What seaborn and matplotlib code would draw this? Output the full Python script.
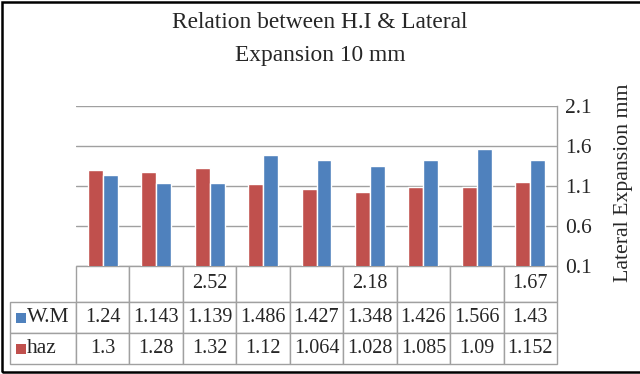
import matplotlib
matplotlib.use("Agg")
import matplotlib.pyplot as plt
import pandas as pd
import seaborn as sns
from matplotlib.patches import Rectangle

# data
hi_labels = ["", "", "2.52", "", "", "2.18", "", "", "1.67"]
wm = [1.24, 1.143, 1.139, 1.486, 1.427, 1.348, 1.426, 1.566, 1.43]
haz = [1.3, 1.28, 1.32, 1.12, 1.064, 1.028, 1.085, 1.09, 1.152]
wm_text = ["1.24", "1.143", "1.139", "1.486", "1.427", "1.348", "1.426", "1.566", "1.43"]
haz_text = ["1.3", "1.28", "1.32", "1.12", "1.064", "1.028", "1.085", "1.09", "1.152"]
series = ["haz", "W.M"]
colors = {"haz": "#C0504D", "W.M": "#4F81BD"}
y_ticks = [0.1, 0.6, 1.1, 1.6, 2.1]

sns.set_style("white")
plt.rcParams["font.family"] = ["Liberation Serif", "DejaVu Serif"]

cats = [f"c{i}" for i in range(len(wm))]
df = pd.DataFrame({
    "cat": cats * 2,
    "series": ["haz"] * len(haz) + ["W.M"] * len(wm),
    "value": haz + wm,
})

W, H = 640, 374
fig = plt.figure(figsize=(W / 100, H / 100), dpi=100)
ax_l, ax_r, ax_t, ax_b = 76, 557, 106, 266
ax = fig.add_axes([ax_l / W, 1 - ax_b / H, (ax_r - ax_l) / W, (ax_b - ax_t) / H])

sns.barplot(data=df, x="cat", y="value", hue="series", order=cats,
            hue_order=series, palette=colors, width=0.56, gap=0,
            saturation=1, legend=False, ax=ax)

grid_c = "#a0a0a0"
ax.set_ylim(0.1, 2.1)
ax.set_xlim(-0.5, len(cats) - 0.5)
ax.set_yticks(y_ticks)
ax.set_yticklabels([f"{t:.1f}" for t in y_ticks])
ax.yaxis.tick_right()
ax.yaxis.set_label_position("right")
ax.tick_params(axis="y", length=0, labelsize=15.5, pad=6)
ax.set_xticks([])
ax.set_xlabel("")
ax.set_ylabel("Lateral Expansion mm", fontsize=15.7)
ax.yaxis.set_label_coords((614 - ax_l) / (ax_r - ax_l), (266 - 183) / (266 - 106))
ax.grid(axis="y", color=grid_c, linewidth=1.0)
ax.set_axisbelow(True)
for s in ["left", "top", "bottom"]:
    ax.spines[s].set_visible(False)
ax.spines["right"].set_color(grid_c)
ax.spines["right"].set_linewidth(1.0)

# data table below the plot
ax_w = ax_r - ax_l
ax_h = ax_b - ax_t
tbl_left, tbl_bottom = 10, 364
rows = [[""] + hi_labels, ["W.M"] + wm_text, ["haz"] + haz_text]
col_w = [66] + [53.44] * len(cats)
row_h = [35.5, 31.3, 31]
tbl = ax.table(cellText=rows, colWidths=col_w, cellLoc="center",
               bbox=[(tbl_left - ax_l) / ax_w, -(tbl_bottom - ax_b) / ax_h,
                     (ax_r - tbl_left) / ax_w, (tbl_bottom - ax_b) / ax_h])
tbl.auto_set_font_size(False)
for (r, c), cell in tbl.get_celld().items():
    cell.set_height(row_h[r])
    cell.set_edgecolor(grid_c)
    cell.set_linewidth(1.0)
    cell.get_text().set_fontsize(14.5)
    if r == 0 and c == 0:
        cell.visible_edges = ""
    if c == 0 and r > 0:
        cell.get_text().set_ha("left")
        cell.get_text().set_fontsize(15.5)
        cell._loc = "left"
        cell.PAD = 0.26

# legend keys inside the table
row_centers = {"W.M": 317.5, "haz": 349}
for name, yc in row_centers.items():
    ax.add_patch(Rectangle(((16 - ax_l) / ax_w, (ax_b - yc - 5) / ax_h),
                           10 / ax_w, 10 / ax_h, transform=ax.transAxes,
                           facecolor=colors[name], edgecolor="none", clip_on=False))

fig.text(0.5, 1 - 23 / H, "Relation between H.I & Lateral", ha="center", va="center", fontsize=16.8)
fig.text(0.5, 1 - 56 / H, "Expansion 10 mm", ha="center", va="center", fontsize=16.8)

# chart border
fig.patches.append(Rectangle((2 / W, 2 / H), 1.2, 1 - 4 / H, transform=fig.transFigure,
                             facecolor="none", edgecolor="black", linewidth=1.8))

fig.savefig("out.png", dpi=100)
